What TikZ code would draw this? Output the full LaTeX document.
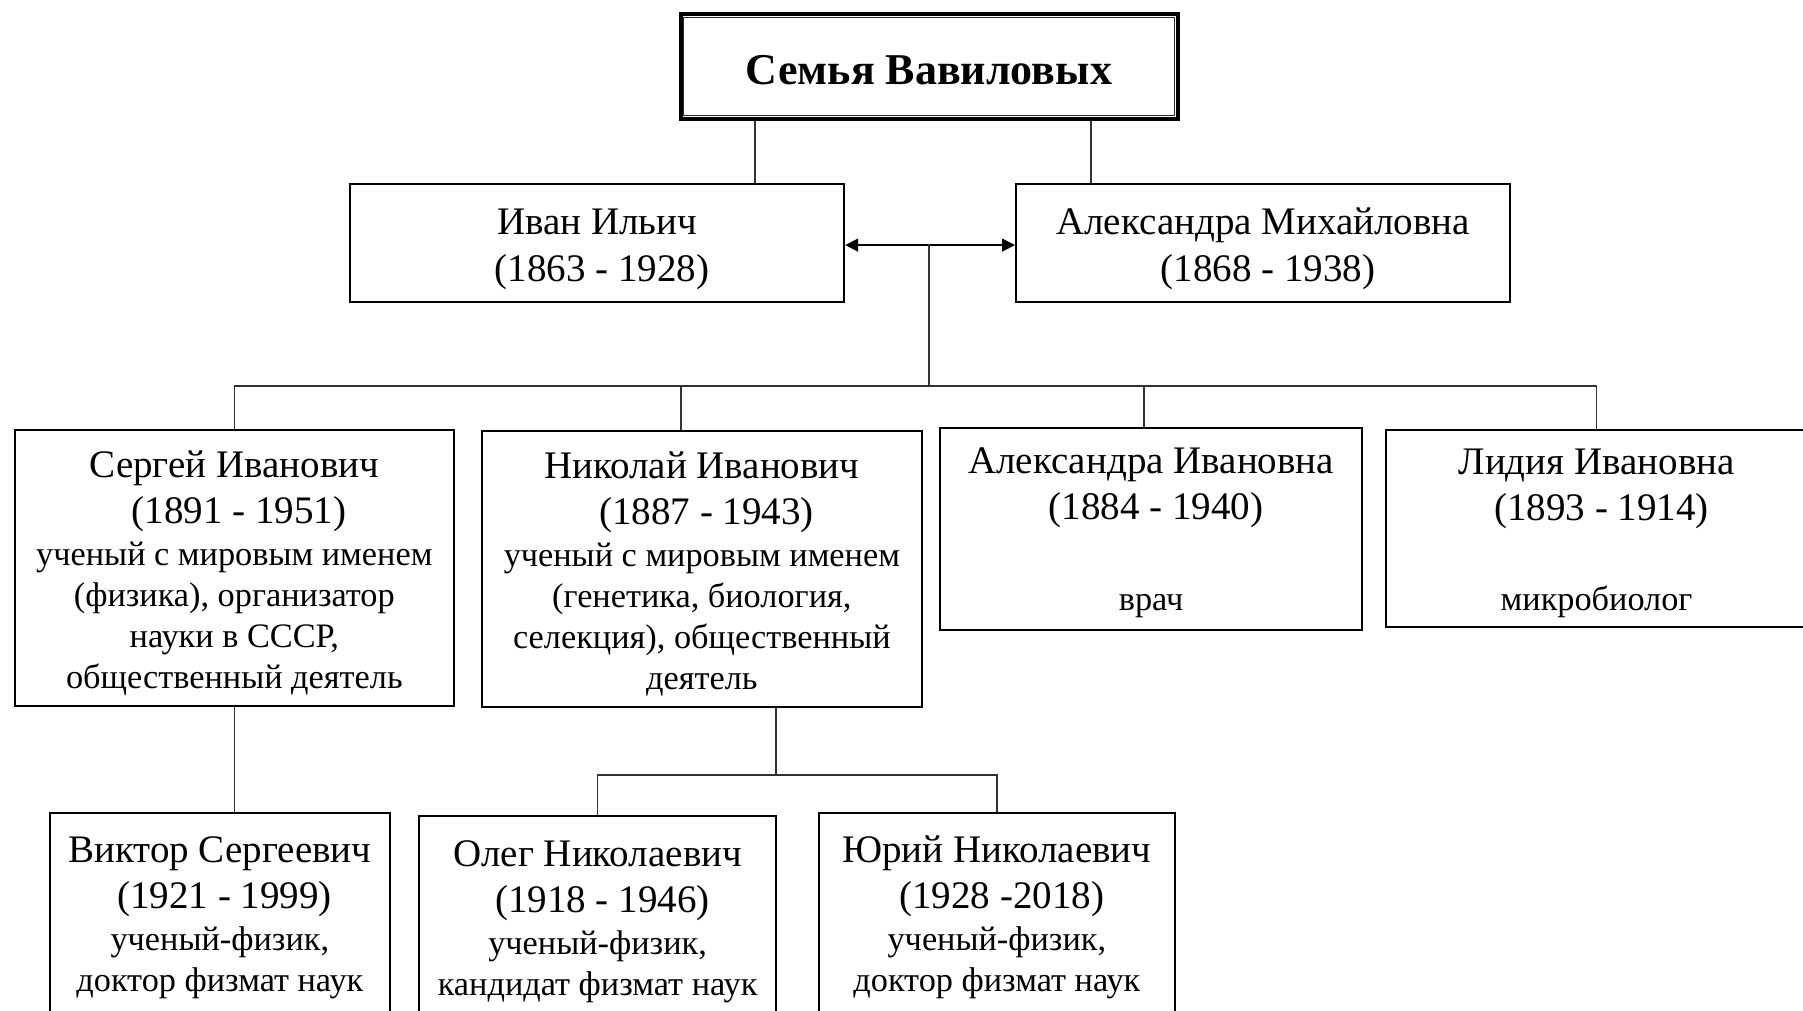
\documentclass[tikz,border=0pt]{standalone}
\usepackage{fontspec}
\setmainfont{Liberation Serif}
\usetikzlibrary{arrows.meta,calc}
\newcommand{\nmfont}{\fontsize{39}{41}\selectfont}
\newcommand{\dsfont}{\fontsize{34.3}{41}\selectfont}
\newcommand{\dt}{\hspace*{0.25em}}
\newcommand{\pbx}[4]{\begin{minipage}[t][#2][t]{#1}\centering\nmfont\rule{0pt}{#3}#4\end{minipage}}
\tikzset{
  pbox/.style={draw=black, line width=2.2pt, inner sep=0pt, anchor=north west, fill=white},
  conn/.style={draw=black!80, line width=1.3pt},
}
\begin{document}
\begin{tikzpicture}[x=1pt,y=-1pt]
\useasboundingbox (0,0) rectangle (1803,1011);
\clip (0,0) rectangle (1803,1011);
\fill[white] (0,0) rectangle (1803,1011);

% title
\node[draw=black, line width=4pt, inner sep=0pt, anchor=north west] (title) at (678.5,12.5)
  {\begin{minipage}[t][104.5pt][t]{497pt}\centering\fontsize{44}{50}\selectfont\bfseries\rule{0pt}{70pt}Семья Вавиловых\end{minipage}};
\draw[line width=1.2pt, draw=black!85] ([shift={(5.2,5.2)}]title.north west) rectangle ([shift={(-5.2,-5.2)}]title.south east);

% parents
\node[pbox] (ivan) at (349,183) {\pbx{494pt}{118pt}{50pt}{Иван Ильич\\[6pt]\dt(1863 - 1928)}};
\node[pbox] (amikh) at (1015,183) {\pbx{494pt}{118pt}{50pt}{Александра Михайловна\\[6pt]\dt(1868 - 1938)}};

% children
\node[pbox] (sergey) at (13.5,429) {\pbx{439.5pt}{276pt}{47pt}{Сергей Иванович\\[5pt]\dt(1891 - 1951)\\[1pt]{\dsfont ученый с мировым именем\\(физика), организатор\\науки в СССР,\\общественный деятель}}};
\node[pbox] (nikolay) at (480.5,430) {\pbx{440.5pt}{276pt}{47pt}{Николай Иванович\\[5pt]\dt(1887 - 1943)\\[1pt]{\dsfont ученый с мировым именем\\(генетика, биология,\\селекция), общественный\\деятель}}};
\node[pbox] (aivan) at (939,427) {\pbx{422pt}{202pt}{45pt}{Александра Ивановна\\[5pt]\dt(1884 - 1940)\\[50pt]{\dsfont врач}}};
\node[pbox] (lidia) at (1385,429) {\pbx{421pt}{197pt}{44pt}{Лидия Ивановна\\[5pt]\dt(1893 - 1914)\\[49pt]{\dsfont микробиолог}}};

% grandchildren
\node[pbox] (viktor) at (48.5,811.5) {\pbx{340.5pt}{204.5pt}{50pt}{Виктор Сергеевич\\[5pt]\dt(1921 - 1999)\\[1pt]{\dsfont ученый-физик,\\доктор физмат наук}}};
\node[pbox] (oleg) at (418,815) {\pbx{357pt}{201pt}{50pt}{Олег Николаевич\\[5pt]\dt(1918 - 1946)\\[1pt]{\dsfont ученый-физик,\\кандидат физмат наук}}};
\node[pbox] (yuri) at (817.5,811.5) {\pbx{356.5pt}{204.5pt}{50pt}{Юрий Николаевич\\[5pt]\dt(1928 -2018)\\[1pt]{\dsfont ученый-физик,\\доктор физмат наук}}};

% connectors
\coordinate (t1) at (755,150);
\coordinate (t2) at (1091,150);
\draw[conn] (t1 |- title.south) -- (t1 |- ivan.north);
\draw[conn] (t2 |- title.south) -- (t2 |- amikh.north);

\draw[line width=1.3pt, {Triangle[length=13pt,width=13pt]}-{Triangle[length=13pt,width=13pt]}]
  ([yshift=-2pt]ivan.east) -- ([yshift=-2pt]amikh.west);

\coordinate (mid) at (929,244);
\coordinate (bus) at (929,386);
\coordinate (nk) at (681,386);
\coordinate (ak) at (1144,386);
\draw[conn] (mid) -- (bus);
\draw[conn] (sergey.north) -- (sergey.north |- bus) -- (lidia.north |- bus) -- (lidia.north);
\draw[conn] (nk) -- (nk |- nikolay.north);
\draw[conn] (ak) -- (ak |- aivan.north);

\draw[conn] (sergey.south) -- (sergey.south |- viktor.north);

\coordinate (nj) at (776,775);
\draw[conn] (nj |- nikolay.south) -- (nj);
\draw[conn] (oleg.north) -- (oleg.north |- nj) -- (yuri.north |- nj) -- (yuri.north);
\end{tikzpicture}
\end{document}
